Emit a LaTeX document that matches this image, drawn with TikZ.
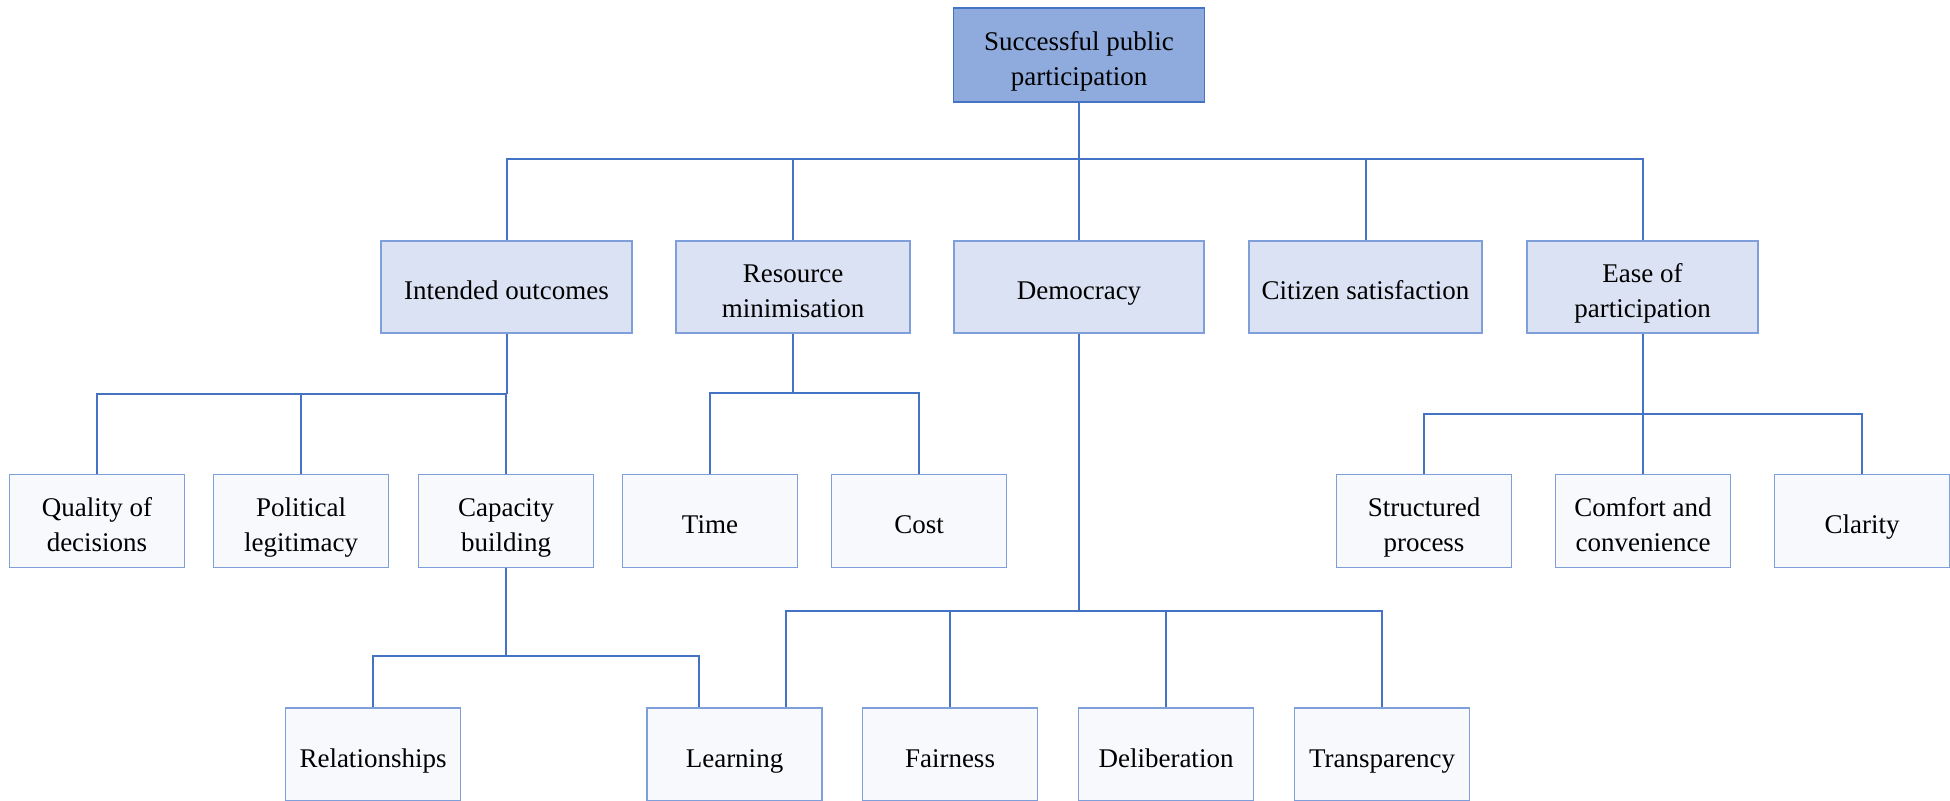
\documentclass[tikz,border=0pt]{standalone}
\usepackage{fontspec}
\setmainfont{Liberation Serif}
\usetikzlibrary{calc}

\definecolor{linkblue}{HTML}{4472C4}
\definecolor{boxline}{HTML}{7F9FDB}
\definecolor{rootfill}{HTML}{8FAADC}
\definecolor{midfill}{HTML}{DAE2F3}
\definecolor{leaffill}{HTML}{F7F9FD}

\begin{document}
\begin{tikzpicture}[x=0.5pt, y=-0.5pt,
    box/.style={draw=boxline, line width=0.75pt, inner sep=0pt, align=center,
      minimum height=46.5pt, minimum width=87.5pt,
      font=\fontsize{13.5}{17.5}\selectfont,
      execute at begin node={\rule[-5.25pt]{0pt}{23.5pt}},
      execute at end node=\strut},
    twoline/.style={execute at begin node={\rule[-5.25pt]{0pt}{41pt}}},
    root/.style={box, fill=rootfill, draw=linkblue, minimum width=125.5pt, minimum height=47pt},
    mid/.style={box, fill=midfill, minimum height=46pt},
    leaf/.style={box, fill=leaffill},
    link/.style={draw=linkblue, line width=1pt}]
  \useasboundingbox (0,0) rectangle (1950,801);

  % top
  \node[root, twoline] (spp) at (1079,55) {Successful public\\participation};

  % second row
  \node[mid, minimum width=125.5pt] (io) at (506.5,287) {Intended outcomes};
  \node[mid, twoline, minimum width=117pt] (rm) at (793,287) {Resource\\minimisation};
  \node[mid, minimum width=125pt] (dem) at (1079,287) {Democracy};
  \node[mid, minimum width=116.5pt] (cs) at (1365.5,287) {Citizen satisfaction};
  \node[mid, twoline, minimum width=115.5pt] (ep) at (1642.5,287) {Ease of\\participation};

  % third row
  \node[leaf, twoline] (qd) at (97,521) {Quality of\\decisions};
  \node[leaf, twoline] (pl) at (301,521) {Political\\legitimacy};
  \node[leaf, twoline] (cb) at (506,521) {Capacity\\building};
  \node[leaf] (time) at (710,521) {Time};
  \node[leaf] (cost) at (919,521) {Cost};
  \node[leaf, twoline] (sp) at (1424,521) {Structured\\process};
  \node[leaf, twoline] (cc) at (1643,521) {Comfort and\\convenience};
  \node[leaf] (cl) at (1862,521) {Clarity};

  % bottom row
  \node[leaf] (rel) at (373,754.5) {Relationships};
  \node[leaf] (lrn) at (734.5,754.5) {Learning};
  \node[leaf] (fair) at (950,754.5) {Fairness};
  \node[leaf] (delib) at (1166,754.5) {Deliberation};
  \node[leaf] (trans) at (1382,754.5) {Transparency};

  % bus levels
  \coordinate (bTop) at (0,159);
  \coordinate (bIO) at (0,394);
  \coordinate (bRM) at (0,393);
  \coordinate (bEP) at (0,414);
  \coordinate (bCB) at (0,656);
  \coordinate (bDem) at (0,611);
  % Learning has two parents
  \coordinate (lrnA) at ($(lrn.north west)+(53,0)$);
  \coordinate (lrnB) at ($(lrn.north west)+(140,0)$);

  \draw[link] (spp.south) -- (spp.south |- bTop);
  \foreach \c in {io,rm,dem,cs,ep}
    \draw[link] (spp.south |- bTop) -| (\c.north);

  \draw[link] (io.south) -- (io.south |- bIO);
  \foreach \c in {qd,pl,cb}
    \draw[link] (io.south |- bIO) -| (\c.north);

  \draw[link] (rm.south) -- (rm.south |- bRM);
  \foreach \c in {time,cost}
    \draw[link] (rm.south |- bRM) -| (\c.north);

  \draw[link] (ep.south) -- (ep.south |- bEP);
  \foreach \c in {sp,cc,cl}
    \draw[link] (ep.south |- bEP) -| (\c.north);

  \draw[link] (cb.south) -- (cb.south |- bCB);
  \draw[link] (cb.south |- bCB) -| (rel.north);
  \draw[link] (cb.south |- bCB) -| (lrnA);

  \draw[link] (dem.south) -- (dem.south |- bDem);
  \draw[link] (dem.south |- bDem) -| (lrnB);
  \foreach \c in {fair,delib,trans}
    \draw[link] (dem.south |- bDem) -| (\c.north);
\end{tikzpicture}
\end{document}
